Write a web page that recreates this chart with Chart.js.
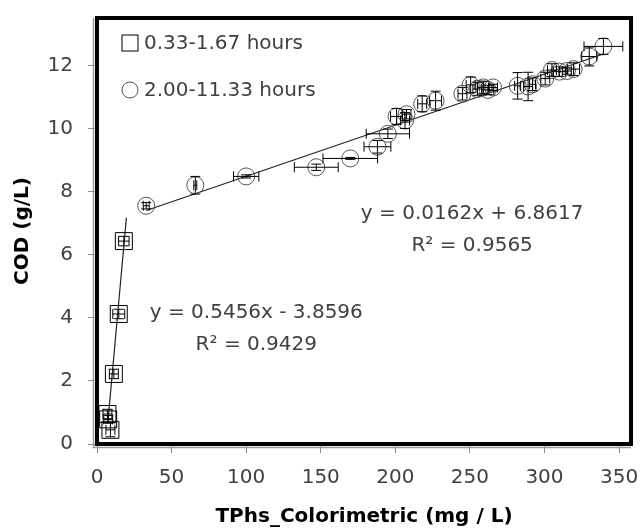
<!DOCTYPE html>
<html><head><meta charset="utf-8">
<script src="https://cdn.jsdelivr.net/npm/chart.js@4.4.0/dist/chart.umd.min.js"></script>
<style>html,body{margin:0;padding:0;background:#fff;} #wrap{width:644px;height:531px;}</style>
</head><body><div id="wrap"><canvas id="c" width="644" height="531"></canvas></div>
<script>
// ---- data ----
const seriesNames = ['0.33-1.67 hours', '2.00-11.33 hours'];

const earlyX    = [7.0, 7.5, 9.0, 11.3, 14.6, 18.0];
const earlyY    = [0.95, 0.78, 0.45, 2.22, 4.12, 6.43];
const earlyXErr = [3.0, 3.0, 3.0, 3.0, 4.0, 3.5];
const earlyYErr = [0.15, 0.12, 0.22, 0.15, 0.15, 0.15];

const lateX    = [33, 65.9, 100, 147, 169.8, 188, 195, 200.8, 206.5, 207.5, 218, 227, 245, 250.5, 255, 259, 262, 265.5, 282, 289, 292, 300.5, 305, 310, 315, 319.5, 330, 339.5];
const lateY    = [7.55, 8.2, 8.48, 8.77, 9.05, 9.42, 9.83, 10.38, 10.25, 10.45, 10.78, 10.88, 11.1, 11.38, 11.25, 11.3, 11.22, 11.3, 11.35, 11.33, 11.4, 11.58, 11.85, 11.8, 11.82, 11.88, 12.28, 12.6];
const lateXErr = [2, 1, 8.5, 14.7, 18.3, 9, 14.5, 4, 3, 3, 3, 4, 3, 3, 3, 4, 4, 3, 2, 3, 2, 3, 3, 4, 3, 4, 5, 13];
const lateYErr = [0.1, 0.28, 0.05, 0.1, 0.03, 0.2, 0.15, 0.25, 0.25, 0.15, 0.25, 0.3, 0.2, 0.25, 0.2, 0.2, 0.15, 0.1, 0.42, 0.45, 0.2, 0.2, 0.2, 0.15, 0.1, 0.2, 0.3, 0.25];

const trendEarlyX = [7.3, 19.7];
const trendEarlyY = [0.7, 7.17];
const trendLateX  = [33, 339.5];
const trendLateY  = [7.40, 12.36];

const equationsEarly = ['y = 0.5456x - 3.8596', 'R\u00B2 = 0.9429'];
const equationsLate  = ['y = 0.0162x + 6.8617', 'R\u00B2 = 0.9565'];

const xTicks = [0, 50, 100, 150, 200, 250, 300, 350];
const yTicks = [0, 2, 4, 6, 8, 10, 12];
const xTitle = 'TPhs_Colorimetric (mg / L)';
const yTitle = 'COD (g/L)';

// ---- helpers ----
const pts = (xs, ys) => xs.map((v, i) => ({x: v, y: ys[i]}));
const FONT = 'DejaVu Sans';
const TXT = '#404040';

const errorBars = {
  id: 'errorBars',
  afterDatasetsDraw(chart) {
    const {ctx, chartArea: a, scales: {x, y}} = chart;
    ctx.save();
    ctx.beginPath(); ctx.rect(a.left, a.top, a.right - a.left, a.bottom - a.top); ctx.clip();
    ctx.strokeStyle = '#000'; ctx.lineWidth = 1;
    const cap = 5;
    chart.data.datasets.forEach(ds => {
      if (!ds.errX) return;
      ds.data.forEach((p, i) => {
        const px = x.getPixelForValue(p.x), py = y.getPixelForValue(p.y);
        const x1 = x.getPixelForValue(p.x - ds.errX[i]), x2 = x.getPixelForValue(p.x + ds.errX[i]);
        const y1 = y.getPixelForValue(p.y - ds.errY[i]), y2 = y.getPixelForValue(p.y + ds.errY[i]);
        ctx.beginPath();
        ctx.moveTo(x1, py); ctx.lineTo(x2, py);
        ctx.moveTo(x1, py - cap); ctx.lineTo(x1, py + cap);
        ctx.moveTo(x2, py - cap); ctx.lineTo(x2, py + cap);
        ctx.moveTo(px, y1); ctx.lineTo(px, y2);
        ctx.moveTo(px - cap, y1); ctx.lineTo(px + cap, y1);
        ctx.moveTo(px - cap, y2); ctx.lineTo(px + cap, y2);
        ctx.stroke();
      });
    });
    ctx.restore();
  }
};

const decorations = {
  id: 'decorations',
  afterDraw(chart) {
    const {ctx, chartArea: a, scales: {x, y}} = chart;
    ctx.save();
    // frame
    ctx.strokeStyle = '#9a9a9a'; ctx.lineWidth = 1.5;
    ctx.beginPath();
    ctx.moveTo(a.left - 3.5, a.top); ctx.lineTo(a.left - 3.5, a.bottom + 3.5); ctx.lineTo(a.right, a.bottom + 3.5);
    ctx.stroke();
    ctx.strokeStyle = '#000'; ctx.lineWidth = 4;
    ctx.strokeRect(a.left, a.top, a.right - a.left, a.bottom - a.top);

    // legend
    ctx.font = '20px "' + FONT + '"';
    ctx.textBaseline = 'middle'; ctx.textAlign = 'left'; ctx.fillStyle = TXT;
    const lx = a.left + 33, ly1 = a.top + 25, ly2 = a.top + 72;
    ctx.lineWidth = 1;
    ctx.strokeStyle = '#000';
    ctx.strokeRect(lx - 8, ly1 - 8, 16, 16);
    ctx.fillText(chart.data.datasets[0].label, lx + 14, ly1 + 1);
    ctx.strokeStyle = '#555';
    ctx.beginPath(); ctx.arc(lx, ly2, 8, 0, Math.PI * 2); ctx.stroke();
    ctx.fillText(chart.data.datasets[1].label, lx + 14, ly2 + 1);

    // equations (anchored in data space)
    ctx.textAlign = 'center';
    const e1x = x.getPixelForValue(106.8), e1y = y.getPixelForValue(4.17);
    ctx.fillText(equationsEarly[0], e1x, e1y);
    ctx.fillText(equationsEarly[1], e1x, e1y + 32);
    const e2x = x.getPixelForValue(251.5), e2y = y.getPixelForValue(7.31);
    ctx.fillText(equationsLate[0], e2x, e2y);
    ctx.fillText(equationsLate[1], e2x, e2y + 32);
    ctx.restore();
  }
};

const noPad = s => { s.paddingTop = 0; s.paddingBottom = 0; s.paddingLeft = 0; s.paddingRight = 0; };

Chart.defaults.font.family = FONT;
Chart.defaults.font.size = 20;
Chart.defaults.color = TXT;

new Chart(document.getElementById('c'), {
  type: 'scatter',
  data: {
    datasets: [
      { label: seriesNames[0], data: pts(earlyX, earlyY), errX: earlyXErr, errY: earlyYErr,
        pointStyle: 'rect', pointRadius: 12, pointHoverRadius: 12, borderColor: '#000', backgroundColor: 'rgba(0,0,0,0)', borderWidth: 1, order: 1 },
      { label: seriesNames[1], data: pts(lateX, lateY), errX: lateXErr, errY: lateYErr,
        pointStyle: 'circle', pointRadius: 8.5, pointHoverRadius: 8.5, borderColor: '#555', backgroundColor: 'rgba(0,0,0,0)', borderWidth: 1, order: 1 },
      { label: 'trend1', type: 'line', data: pts(trendEarlyX, trendEarlyY), showLine: true, pointRadius: 0, borderColor: '#222', borderWidth: 1.2, fill: false, order: 2 },
      { label: 'trend2', type: 'line', data: pts(trendLateX, trendLateY), showLine: true, pointRadius: 0, borderColor: '#222', borderWidth: 1.2, fill: false, order: 2 }
    ]
  },
  options: {
    responsive: false,
    animation: false,
    devicePixelRatio: 1,
    layout: { padding: { top: 18, right: 9, left: 0, bottom: 0 } },
    plugins: { legend: { display: false }, tooltip: { enabled: false } },
    scales: {
      x: {
        type: 'linear', min: 0, max: 358,
        afterBuildTicks: s => { s.ticks = xTicks.map(v => ({value: v})); },
        afterFit: s => { s.height = 87; noPad(s); },
        grid: { drawOnChartArea: false, drawTicks: true, tickLength: 9, color: '#8c8c8c' },
        border: { display: false },
        ticks: { padding: 13, color: TXT, font: { size: 20 } },
        title: { display: true, text: xTitle, color: '#000', font: { size: 20, weight: 'bold' }, padding: { top: 0, bottom: 2 } }
      },
      y: {
        type: 'linear', min: 0, max: 13.5,
        afterBuildTicks: s => { s.ticks = yTicks.map(v => ({value: v})); },
        afterFit: s => { s.width = 97; noPad(s); },
        grid: { drawOnChartArea: false, drawTicks: true, tickLength: 9, color: '#8c8c8c' },
        border: { display: false },
        ticks: { padding: 15, color: TXT, font: { size: 20 } },
        title: { display: true, text: yTitle, color: '#000', font: { size: 20, weight: 'bold' }, padding: { top: 11, bottom: 0 } }
      }
    }
  },
  plugins: [errorBars, decorations]
});
</script>
</body></html>
